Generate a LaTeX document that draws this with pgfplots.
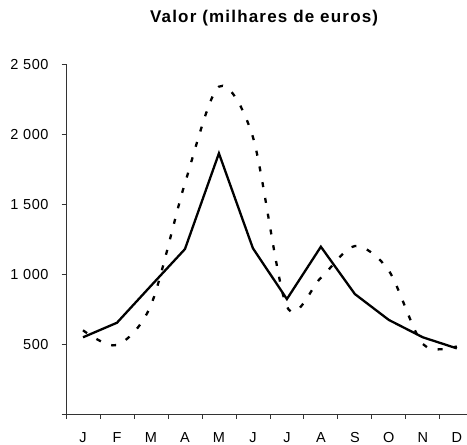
\documentclass[border=0pt]{standalone}
\usepackage{fontspec}
\setmainfont{Liberation Sans}
\newfontfamily\titlefont[LetterSpace=7]{Liberation Sans}
\newfontfamily\tickfont[LetterSpace=4]{Liberation Sans}
\usepackage{pgfplots}
\pgfplotsset{compat=1.18}
\begin{document}
\begin{tikzpicture}
\path[use as bounding box] (-66bp,-30.7bp) rectangle (401bp,414.3bp);
\begin{axis}[
  at={(0,0)}, anchor=south west,
  scale only axis, width=401bp, height=350bp,
  xmin=-0.5, xmax=11.3, ymin=0, ymax=2500,
  axis x line*=bottom, axis y line*=left,
  xtick={0,...,11},
  xticklabels={J,F,M,A,M,J,J,A,S,O,N,D},
  major x tick style={draw=none},
  minor xtick={-0.5,0.5,...,11.5},
  ytick={0,500,1000,1500,2000,2500},
  yticklabels={,500,1~000,1~500,2~000,2~500},
  tick align=outside, major tick length=4.3bp, minor tick length=4.3bp,
  axis line style={line width=0.8bp, black!80},
  tick style={black!80, line width=0.8bp},
  yticklabel style={font=\tickfont\fontsize{14.5bp}{16bp}\selectfont, anchor=east, inner sep=0pt, xshift=-13bp},
  xticklabel style={font=\tickfont\fontsize{14.5bp}{16bp}\selectfont, anchor=base, inner sep=0pt, yshift=-24bp},
  title={Valor (milhares de euros)},
  title style={font=\titlefont\bfseries\fontsize{17bp}{19bp}\selectfont, at={(0.494,1)}, anchor=base, inner sep=0pt, yshift=36bp},
]
\addplot[black, line width=2.3bp, dash pattern=on 5bp off 11bp, smooth] coordinates {
  (0,600) (1,495) (2,780) (3,1650) (4,2340) (5,1980) (6,769) (7,975) (8,1202) (9,1026) (10,502) (11,485)
};
\addplot[black, line width=2.3bp] coordinates {
  (0,550) (1,654) (2,918) (3,1180) (4,1864) (5,1186) (6,823) (7,1197) (8,859) (9,674) (10,550) (11,471)
};
\end{axis}
\end{tikzpicture}
\end{document}
